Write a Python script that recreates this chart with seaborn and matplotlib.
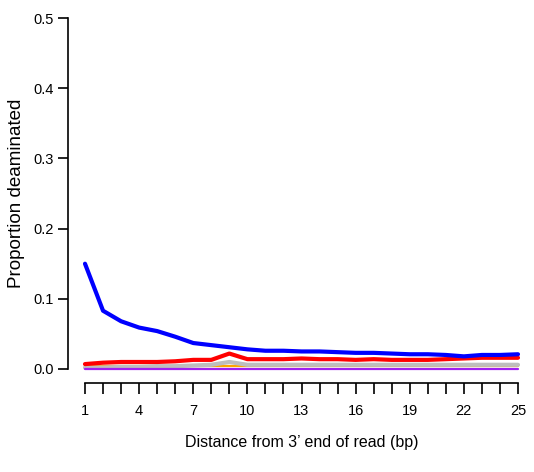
import matplotlib
matplotlib.use("Agg")
import matplotlib.pyplot as plt
import numpy as np
import pandas as pd
import seaborn as sns

# Position from the 3' end of the read
positions = list(range(1, 26))

# Proportion of each substitution type at each position
g_to_a = [0.150, 0.083, 0.068, 0.059, 0.054, 0.046, 0.037, 0.034, 0.031, 0.028,
          0.026, 0.026, 0.025, 0.025, 0.024, 0.023, 0.023, 0.022, 0.021, 0.021,
          0.020, 0.018, 0.020, 0.020, 0.021]
c_to_t = [0.007, 0.009, 0.010, 0.010, 0.010, 0.011, 0.013, 0.013, 0.022, 0.014,
          0.014, 0.014, 0.015, 0.014, 0.014, 0.013, 0.014, 0.013, 0.013, 0.013,
          0.014, 0.015, 0.016, 0.016, 0.016]
other_subs = [0.002, 0.002, 0.003, 0.003, 0.004, 0.004, 0.005, 0.006, 0.010, 0.006,
              0.006, 0.006, 0.006, 0.006, 0.006, 0.006, 0.006, 0.006, 0.006, 0.006,
              0.006, 0.006, 0.006, 0.006, 0.006]
insertions = [0.004, 0.004, 0.004, 0.004, 0.004, 0.004, 0.004, 0.004, 0.004, 0.004,
              0.004, 0.004, 0.004, 0.004, 0.004, 0.004, 0.004, 0.004, 0.004, 0.004,
              0.004, 0.004, 0.004, 0.004, 0.004]
deletions = [0.0005] * 25

x_ticks = list(range(1, 26))
x_tick_labels = [str(p) if (p - 1) % 3 == 0 else "" for p in x_ticks]
y_ticks = [0.0, 0.1, 0.2, 0.3, 0.4, 0.5]
y_tick_labels = ["0.0", "0.1", "0.2", "0.3", "0.4", "0.5"]

series = [
    ("insertions", insertions, "#FFA500", 1.6),
    ("other", other_subs, "#BEBEBE", 3.0),
    ("C>T", c_to_t, "#FF0000", 3.0),
    ("deletions", deletions, "#A020F0", 1.6),
    ("G>A", g_to_a, "#0000FF", 3.0),
]

sns.set_style("white")
plt.rcParams["font.family"] = ["Liberation Sans", "DejaVu Sans"]
plt.rcParams["text.color"] = "black"
plt.rcParams["axes.labelcolor"] = "black"

W, H = 534, 472
fig = plt.figure(figsize=(W / 100, H / 100), dpi=100)

# Plot region laid out like base R graphics (4% padding on each axis)
x_px_per_unit = (518 - 85) / 24
y_px_per_unit = (369 - 18) / 0.5
left_px = 85 - 0.96 * x_px_per_unit
width_px = 25.92 * x_px_per_unit
bottom_px = 369 + 0.02 * y_px_per_unit
height_px = 0.54 * y_px_per_unit
ax = fig.add_axes([left_px / W, (H - bottom_px) / H, width_px / W, height_px / H])
ax.patch.set_alpha(0)

for name, vals, color, lw in series:
    df = pd.DataFrame({"pos": positions, "prop": vals})
    sns.lineplot(data=df, x="pos", y="prop", color=color, linewidth=lw,
                 ax=ax, legend=False)

ax.set_xlim(0.04, 25.96)
ax.set_ylim(-0.02, 0.52)

for side in ("top", "right"):
    ax.spines[side].set_visible(False)
for side in ("left", "bottom"):
    ax.spines[side].set_color("black")
    ax.spines[side].set_linewidth(1.2)
ax.spines["left"].set_bounds(0, 0.5)
ax.spines["bottom"].set_bounds(1, 25)

ax.set_xticks(x_ticks)
ax.set_xticklabels(x_tick_labels)
ax.set_yticks(y_ticks)
ax.set_yticklabels(y_tick_labels)
ax.tick_params(axis="x", direction="out", length=8, width=1.2, pad=7,
               labelsize=10.5, colors="black", bottom=True)
ax.tick_params(axis="y", direction="out", length=7, width=1.2, pad=3,
               labelsize=10.5, colors="black", left=True)

ax.set_xlabel("Distance from 3\u2019 end of read (bp)", fontsize=11.5, labelpad=12,
              color="black")
ax.set_ylabel("Proportion deaminated", fontsize=13.5, labelpad=6, color="black")

fig.savefig("out.png", dpi=100)
